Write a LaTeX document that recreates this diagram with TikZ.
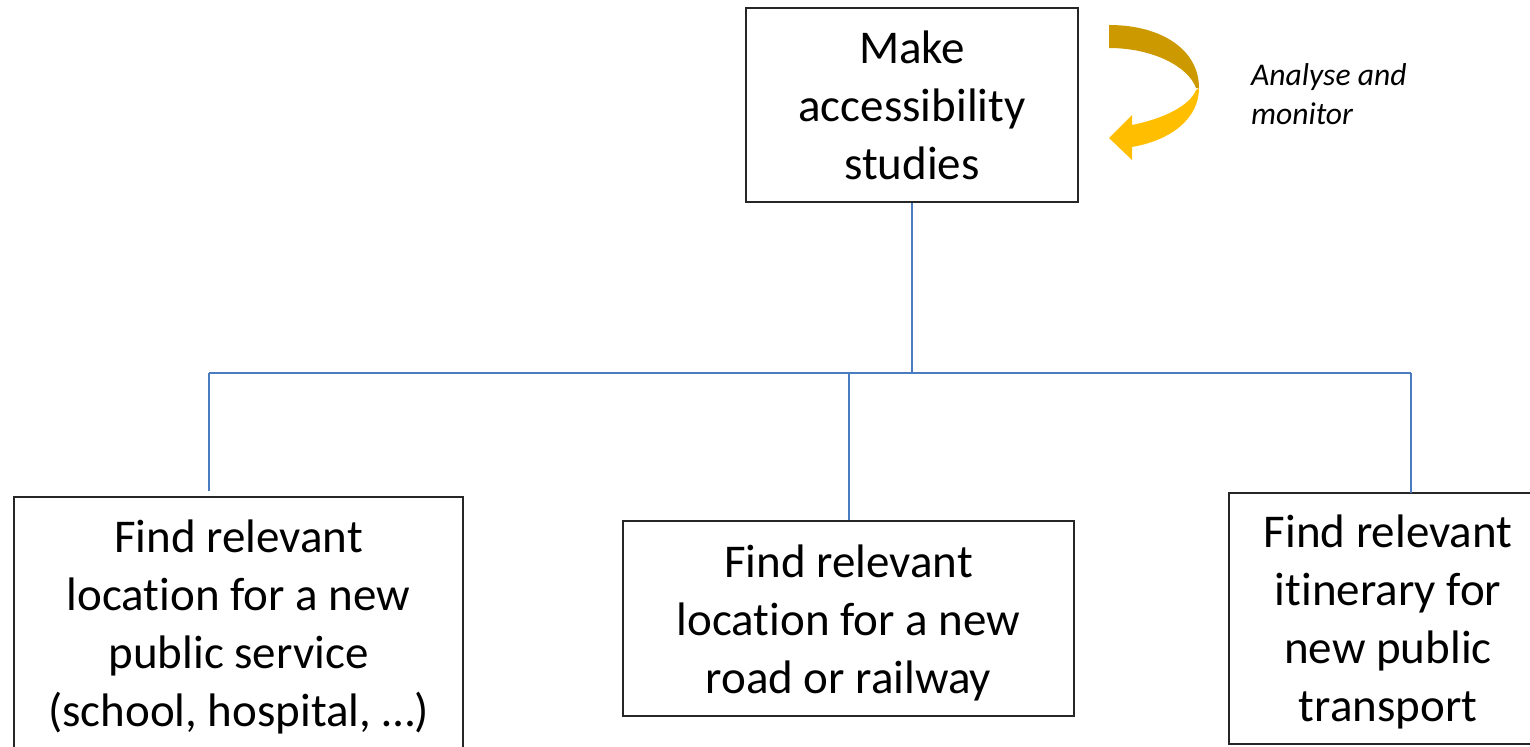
\documentclass[tikz,border=0pt]{standalone}
\usepackage{fontspec}
\setmainfont{Carlito}[Ligatures=NoCommon]
\usepackage{tikz}
\definecolor{link blue}{rgb}{0.29, 0.49, 0.75}
\definecolor{dark gold}{rgb}{0.80, 0.60, 0.00}
\definecolor{light gold}{rgb}{1.00, 0.75, 0.00}
\tikzset{
  frame/.style={draw=black!85, line width=0.8pt},
  task/.style={frame, align=center, inner sep=0pt,
    font=\fontsize{23.5}{29}\selectfont},
  link/.style={draw=link blue, line width=1pt}
}

\begin{document}
\begin{tikzpicture}[x=0.5pt, y=-0.5pt]
		\useasboundingbox (0, 0) rectangle (1530, 746);
		\clip (0, 0) rectangle (1530, 746);
		% boxes
		\node[task, minimum width=166pt, minimum height=97pt] (study) at (912, 105)
			{Make\\accessibility\\studies};
		\node[task, minimum width=224.5pt, minimum height=130pt] (service) at (238.5, 627)
			{Find relevant\\location for a new\\public service\\(school, hospital, \dots)};
		\node[task, minimum width=225.5pt, minimum height=97.5pt] (road) at (848.5, 618.5)
			{\strut Find relevant\\location for a new\\road or railway};
		% right box runs past the page edge
		\coordinate (transitNW) at (1229, 493);
		\coordinate (transitSE) at (1600, 744);
		\draw[frame] (transitNW) rectangle (transitSE);
		\node[task, draw=none] (transit) at (1388, 622)
			{Find relevant\\itinerary for\\new public\\transport};
		% curved arrow
		\begin{scope}
			\fill[dark gold] (1109, 25) .. controls (1162, 25) and (1199, 50) .. (1199, 88)
				-- (1196, 88) .. controls (1188, 66) and (1152, 48) .. (1109, 48) -- cycle;
			\fill[light gold] (1199, 88) .. controls (1199, 118) and (1172, 140) .. (1132, 147)
				-- (1132, 160) -- (1109, 138) -- (1132, 115) -- (1132, 125)
				.. controls (1166, 118) and (1190, 105) .. (1196, 90) -- cycle;
		\end{scope}
		\node[align=left, anchor=west, font=\fontsize{15.8}{19.5}\selectfont\itshape] (note)
			at (1244, 94) {Analyse and\\monitor};
		% connectors
		\coordinate (busL) at (209, 373);
		\coordinate (busR) at (1411, 373);
		\coordinate (endL) at (209, 491);
		\draw[link]
			(study.south) -- (study.south |- busL)
			(busL) -- (busR)
			(busL) -- (endL)
			(road.north |- busL) -- (road.north)
			(busR) -- (busR |- transitNW);
	\end{tikzpicture}
\end{document}
